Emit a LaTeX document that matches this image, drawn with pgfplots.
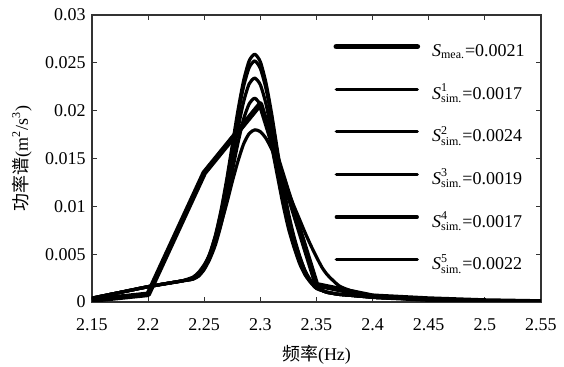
\documentclass[border=0pt]{standalone}
\usepackage{pgfplots}
\pgfplotsset{compat=1.18}
\usepackage{amsmath}
\usepackage{fontspec}
\setmainfont{Liberation Serif}
\newfontfamily\cjk{Noto Sans CJK SC}
\begin{document}
\fontsize{9}{10}\selectfont
\begin{tikzpicture}
\begin{axis}[
  scale only axis, width=224.5pt, height=143.5pt,
  xmin=2.15, xmax=2.55, ymin=0, ymax=0.03,
  scaled x ticks=false, scaled y ticks=false,
  /pgf/number format/assume math mode=true,
  xtick={2.15,2.2,2.25,2.3,2.35,2.4,2.45,2.5,2.55},
  xticklabels={2.15,2.2,2.25,2.3,2.35,2.4,2.45,2.5,2.55},
  ytick={0,0.005,0.01,0.015,0.02,0.025,0.03},
  yticklabels={0,0.005,0.01,0.015,0.02,0.025,0.03},
  tick align=inside, major tick length=2.5pt,
  axis line style={black!80, line width=0.6pt},
  tick style={black!80, line width=0.6pt},
  ticklabel style={font=\fontsize{9}{10}\selectfont},
  xticklabel style={yshift=-5pt},
  xlabel={{\cjk 频率}(Hz)},
  ylabel={{\cjk 功率谱}(m\textsuperscript{2}/s\textsuperscript{3})},
  xlabel style={at={(axis description cs:0.5,-0.185)}, anchor=center, font=\fontsize{9}{10}\selectfont},
  ylabel style={at={(axis description cs:-0.156,0.5)}, anchor=center, font=\fontsize{9}{10}\selectfont},
  legend cell align=left,
  legend style={draw=none, fill=none, at={(axis description cs:0.537,0.905)}, anchor=north west,
    inner sep=0pt, row sep=11.3pt, font=\fontsize{9}{10}\selectfont,
    nodes={inner sep=0pt, text height=7pt, text depth=3pt}, column sep=6pt},
  legend image code/.code={\draw[#1] (0pt,3pt) -- (40.5pt,3pt);},
  every axis plot/.append style={black, line join=round, line cap=round},
]
\addplot[line width=2.8pt] coordinates {
(2.15,0.0002)(2.2,0.0008)(2.25,0.0135)(2.3,0.0207)(2.35,0.0018)(2.4,0.0006)(2.45,0.0003)(2.5,0.0001)(2.55,0.0)};
\addlegendentry{$\textit{S}_{\text{mea.}}$=0.0021}
% sim 1
\addplot[line width=1.6pt, smooth, tension=0.4] coordinates {
(2.15,0.0004)(2.175,0.0010)(2.2,0.0016)(2.22,0.0020)(2.23,0.0022)
(2.24,0.0025)(2.245,0.0029)(2.25,0.0038)(2.255,0.0051)(2.26,0.0070)(2.265,0.0096)(2.27,0.0128)(2.275,0.0164)(2.28,0.0200)(2.285,0.0231)(2.29,0.0252)(2.295,0.0259)
(2.3,0.0251)(2.305,0.0229)(2.31,0.0197)(2.315,0.0160)(2.32,0.0124)(2.325,0.0093)(2.33,0.0068)(2.335,0.0048)(2.34,0.0032)(2.345,0.0022)(2.35,0.0015)
(2.355,0.0012)(2.36,0.0010)(2.37,0.0008)(2.38,0.0007)(2.4,0.0005)(2.42,0.0004)(2.45,0.0003)(2.5,0.0001)(2.55,0.0)};
\addlegendentry{$\textit{S}^{\text{1}}_{\text{sim.}}$=0.0017}
% sim 2
\addplot[line width=1.6pt, smooth, tension=0.4] coordinates {
(2.15,0.0004)(2.175,0.0010)(2.2,0.0016)(2.22,0.0020)(2.23,0.0022)
(2.24,0.0024)(2.245,0.0029)(2.25,0.0037)(2.255,0.0050)(2.26,0.0069)(2.265,0.0094)(2.27,0.0125)(2.275,0.0160)(2.28,0.0195)(2.285,0.0225)(2.29,0.0245)(2.295,0.0252)
(2.3,0.0244)(2.305,0.0223)(2.31,0.0192)(2.315,0.0156)(2.32,0.0121)(2.325,0.0090)(2.33,0.0066)(2.335,0.0047)(2.34,0.0032)(2.345,0.0022)(2.35,0.0015)
(2.355,0.0012)(2.36,0.0010)(2.37,0.0008)(2.38,0.0007)(2.4,0.0005)(2.42,0.0004)(2.45,0.0003)(2.5,0.0001)(2.55,0.0)};
\addlegendentry{$\textit{S}^{\text{2}}_{\text{sim.}}$=0.0024}
% sim 3
\addplot[line width=1.6pt, smooth, tension=0.4] coordinates {
(2.15,0.0004)(2.175,0.0010)(2.2,0.0016)(2.22,0.0020)(2.23,0.0022)
(2.24,0.0024)(2.245,0.0028)(2.25,0.0036)(2.255,0.0047)(2.26,0.0065)(2.265,0.0088)(2.27,0.0117)(2.275,0.0149)(2.28,0.0181)(2.285,0.0209)(2.29,0.0228)(2.295,0.0234)
(2.3,0.0227)(2.305,0.0207)(2.31,0.0178)(2.315,0.0145)(2.32,0.0112)(2.325,0.0084)(2.33,0.0062)(2.335,0.0044)(2.34,0.0030)(2.345,0.0021)(2.35,0.0015)
(2.355,0.0012)(2.36,0.0010)(2.37,0.0008)(2.38,0.0007)(2.4,0.0005)(2.42,0.0004)(2.45,0.0003)(2.5,0.0001)(2.55,0.0)};
\addlegendentry{$\textit{S}^{\text{3}}_{\text{sim.}}$=0.0019}
% sim 4
\addplot[line width=1.6pt, smooth, tension=0.4] coordinates {
(2.15,0.0004)(2.175,0.0010)(2.2,0.0016)(2.22,0.0020)(2.23,0.0022)
(2.24,0.0024)(2.245,0.0027)(2.25,0.0034)(2.255,0.0045)(2.26,0.0060)(2.265,0.0081)(2.27,0.0107)(2.275,0.0137)(2.28,0.0166)(2.285,0.0191)(2.29,0.0207)(2.295,0.0213)
(2.3,0.0206)(2.305,0.0189)(2.31,0.0163)(2.315,0.0133)(2.32,0.0103)(2.325,0.0077)(2.33,0.0057)(2.335,0.0040)(2.34,0.0028)(2.345,0.0020)(2.35,0.0014)
(2.355,0.0012)(2.36,0.0010)(2.37,0.0008)(2.38,0.0007)(2.4,0.0005)(2.42,0.0004)(2.45,0.0003)(2.5,0.0001)(2.55,0.0)};
\addlegendentry{$\textit{S}^{\text{4}}_{\text{sim.}}$=0.0017}
% sim 5
\addplot[line width=1.6pt, smooth, tension=0.4] coordinates {
(2.15,0.0004)(2.175,0.0010)(2.2,0.0016)(2.22,0.0020)(2.23,0.0022)
(2.24,0.0026)(2.245,0.0031)(2.25,0.0039)(2.255,0.0049)(2.26,0.0064)(2.265,0.0082)(2.27,0.0103)(2.275,0.0126)(2.28,0.0147)(2.285,0.0165)(2.29,0.0176)(2.295,0.0180)
(2.3,0.0178)(2.305,0.0171)(2.31,0.0160)(2.315,0.0146)(2.32,0.0131)(2.325,0.0115)(2.33,0.0100)(2.335,0.0086)(2.34,0.0072)(2.345,0.0059)(2.35,0.0047)
(2.355,0.0036)(2.36,0.0028)(2.37,0.0017)(2.38,0.0012)(2.39,0.0009)(2.4,0.0007)(2.42,0.0005)(2.45,0.0003)(2.5,0.0001)(2.55,0.0)};
\addlegendentry{$\textit{S}^{\text{5}}_{\text{sim.}}$=0.0022}
\end{axis}
\pgfresetboundingbox
\path[use as bounding box] (current axis.south west) ++(-46pt,-32.5pt) rectangle ++(282pt,183.5pt);
\end{tikzpicture}
\end{document}
